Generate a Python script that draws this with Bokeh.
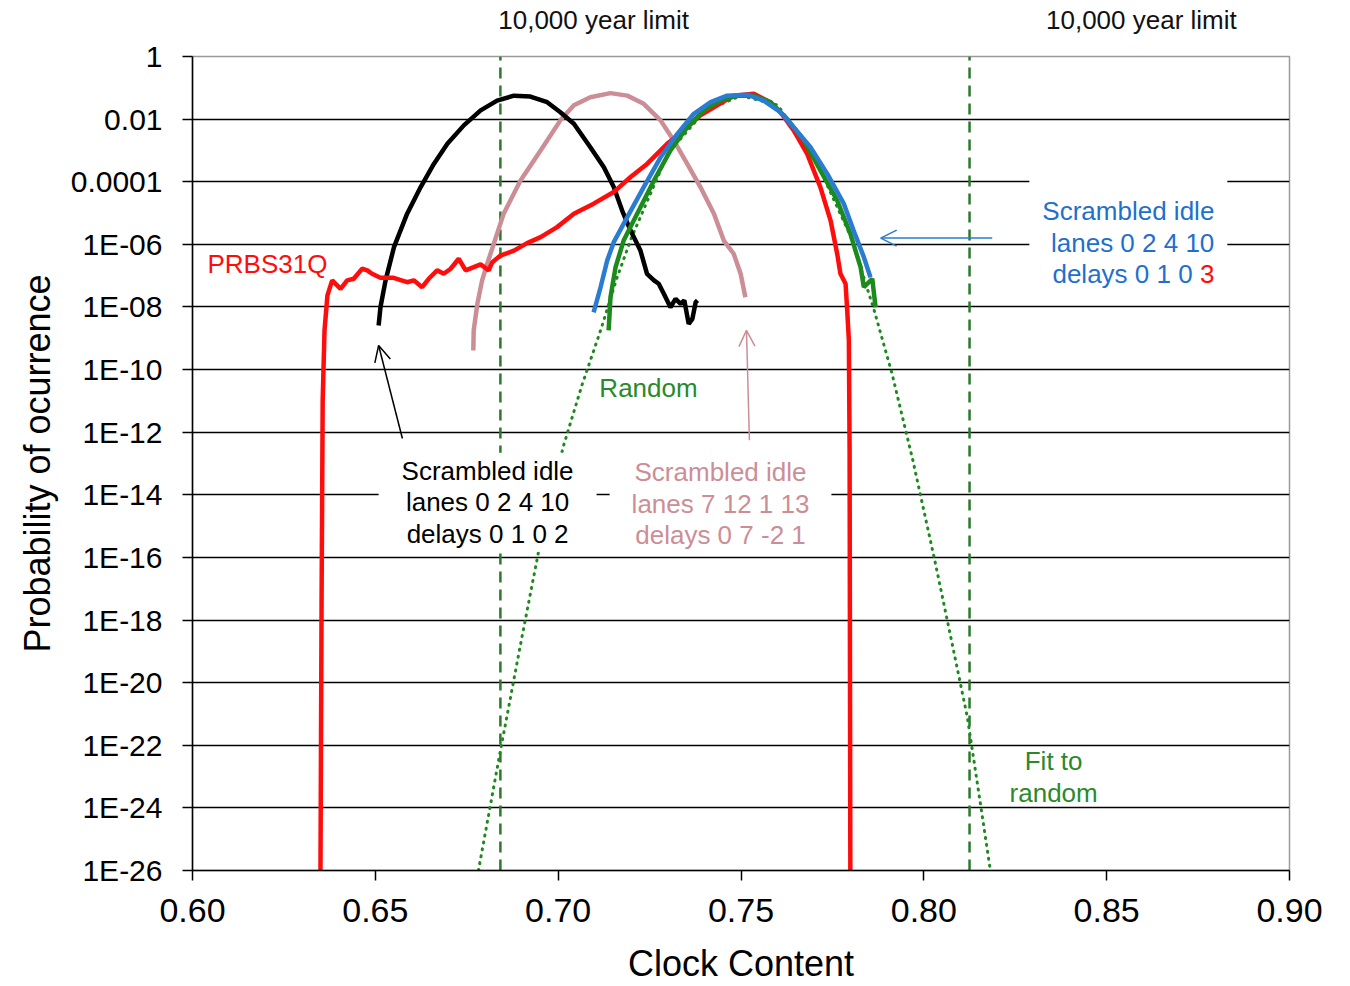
import math
from bokeh.plotting import figure
from bokeh.models import Range1d, FixedTicker, Label, Arrow, OpenHead, LinearAxis
from bokeh.embed import file_html
from bokeh.resources import INLINE

FONT = "Liberation Sans"

# ---------------- data (x = clock content, e = log10 of probability) ----------------
x_ticks = [0.60, 0.65, 0.70, 0.75, 0.80, 0.85, 0.90]
x_tick_labels = ["0.60", "0.65", "0.70", "0.75", "0.80", "0.85", "0.90"]
y_ticks = [1, 1e-2, 1e-4, 1e-6, 1e-8, 1e-10, 1e-12, 1e-14, 1e-16, 1e-18, 1e-20, 1e-22, 1e-24, 1e-26]
y_tick_labels = ["1", "0.01", "0.0001", "1E-06", "1E-08", "1E-10", "1E-12", "1E-14",
                 "1E-16", "1E-18", "1E-20", "1E-22", "1E-24", "1E-26"]

limit_x = [0.6842, 0.8125]            # 10,000 year limits
limit_label_x = [0.7097, 0.8595]      # where the "10,000 year limit" captions sit
limit_labels = ["10,000 year limit", "10,000 year limit"]

prbs_x = [0.6350, 0.6353, 0.6356, 0.6361, 0.6369, 0.6382, 0.6405, 0.6423, 0.6441, 0.6464,
          0.6478, 0.6491, 0.6514, 0.6550, 0.6587, 0.6605, 0.6628, 0.6646, 0.6669, 0.6687,
          0.6706, 0.6728, 0.6747, 0.6769, 0.6788, 0.6810, 0.6820, 0.6842, 0.6879, 0.6915,
          0.6952, 0.6997, 0.7043, 0.7097, 0.7152, 0.7198, 0.7243, 0.7298, 0.7344, 0.7389,
          0.7435, 0.7480, 0.7535, 0.7572, 0.7608, 0.7644, 0.7681, 0.7717, 0.7745, 0.7763,
          0.7772, 0.7786, 0.7790, 0.7795, 0.7797, 0.7799]
prbs_e = [-26.0, -17.37, -10.99, -8.75, -7.63, -7.15, -7.42, -7.15, -7.10, -6.78,
          -6.83, -6.94, -7.07, -7.07, -7.21, -7.15, -7.37, -7.10, -6.83, -6.94,
          -6.78, -6.46, -6.83, -6.73, -6.64, -6.83, -6.57, -6.36, -6.20, -5.96,
          -5.77, -5.45, -5.02, -4.70, -4.33, -3.85, -3.43, -2.79, -2.36, -1.88,
          -1.56, -1.25, -1.19, -1.41, -1.78, -2.36, -3.11, -4.17, -5.24, -6.30,
          -6.94, -7.26, -8.01, -9.07, -12.58, -26.0]

black_x = [0.6509, 0.6514, 0.6528, 0.6551, 0.6587, 0.6624, 0.6660, 0.6697, 0.6742, 0.6788,
           0.6833, 0.6879, 0.6924, 0.6970, 0.7006, 0.7043, 0.7088, 0.7125, 0.7152, 0.7175,
           0.7198, 0.7225, 0.7243, 0.7262, 0.7275, 0.7289, 0.7307, 0.7321, 0.7335, 0.7345,
           0.7357, 0.7367, 0.7376, 0.7381]
black_e = [-8.59, -8.01, -7.15, -6.09, -5.02, -4.17, -3.43, -2.79, -2.20, -1.72,
           -1.41, -1.25, -1.28, -1.46, -1.78, -2.15, -2.90, -3.54, -4.17, -4.92,
           -5.56, -6.20, -6.94, -7.15, -7.26, -7.58, -8.01, -7.74, -7.90, -7.79,
           -8.54, -8.38, -7.85, -7.79]

pink_x = [0.6768, 0.6769, 0.6779, 0.6792, 0.6806, 0.6824, 0.6851, 0.6897, 0.6952, 0.7006,
          0.7043, 0.7088, 0.7143, 0.7189, 0.7234, 0.7280, 0.7316, 0.7353, 0.7389, 0.7426,
          0.7453, 0.7480, 0.7499, 0.7512]
pink_e = [-9.39, -8.75, -7.90, -7.15, -6.62, -5.98, -5.02, -3.96, -3.00, -2.04,
          -1.56, -1.30, -1.17, -1.25, -1.51, -2.04, -2.68, -3.43, -4.17, -5.02,
          -5.88, -6.30, -6.94, -7.69]

blue_x = [0.7097, 0.7116, 0.7134, 0.7152, 0.7189, 0.7234, 0.7280, 0.7326, 0.7371, 0.7417,
          0.7462, 0.7517, 0.7562, 0.7608, 0.7644, 0.7690, 0.7736, 0.7781, 0.7808, 0.7836,
          0.7854]
blue_e = [-8.17, -7.37, -6.52, -5.93, -5.13, -4.17, -3.22, -2.47, -1.83, -1.46,
          -1.25, -1.22, -1.41, -1.78, -2.26, -2.90, -3.75, -4.70, -5.56, -6.41,
          -7.05]

random_x = [0.7138, 0.7143, 0.7157, 0.7179, 0.7216, 0.7262, 0.7307, 0.7353, 0.7398, 0.7444,
            0.7490, 0.7535, 0.7581, 0.7626, 0.7672, 0.7717, 0.7763, 0.7799, 0.7827, 0.7836,
            0.7859, 0.7868]
random_e = [-8.75, -7.69, -6.73, -5.88, -5.02, -3.96, -3.00, -2.26, -1.72, -1.41,
            -1.25, -1.25, -1.46, -1.99, -2.68, -3.64, -4.60, -5.66, -6.73, -7.37,
            -7.10, -8.01]

fit_x = [0.6782, 0.684, 0.690, 0.696, 0.7015, 0.7065, 0.7116, 0.716, 0.720, 0.730,
         0.740, 0.750, 0.760, 0.770, 0.780, 0.7863, 0.7913, 0.797, 0.803, 0.808,
         0.8119, 0.815, 0.8182]
fit_e = [-26.0, -22.3, -18.6, -15.0, -12.42, -10.5, -8.75, -7.1, -5.8, -3.1,
         -1.75, -1.25, -1.55, -3.2, -5.75, -8.06, -10.13, -12.9, -16.1, -18.9,
         -21.1, -23.5, -26.0]


def prob(exps):
    return [10.0 ** e for e in exps]


RED = "#ff0d0d"
PINK = "#cc8e96"
BLUE = "#2a7bd2"
BLUE_TXT = "#1f6fcf"
GREEN = "#1c8a1c"
GREEN_TXT = "#2a8a2a"
DGREEN = "#2b7a2b"

p = figure(width=1342, height=986,
           x_range=Range1d(0.60, 0.90), y_range=Range1d(1e-26, 1),
           y_axis_type="log", output_backend="svg", toolbar_location=None,
           min_border_left=192, min_border_right=53, min_border_top=56, min_border_bottom=116,
           background_fill_color="white", border_fill_color="white")

# axes
p.xaxis.ticker = FixedTicker(ticks=x_ticks)
p.xaxis.major_label_overrides = dict(zip(x_ticks, x_tick_labels))
p.yaxis.ticker = FixedTicker(ticks=y_ticks)
p.yaxis.major_label_overrides = dict(zip(y_ticks, y_tick_labels))
for ax in (p.xaxis, p.yaxis):
    ax.major_label_text_font = FONT
    ax.major_label_text_color = "black"
    ax.axis_line_color = "black"
    ax.axis_line_width = 1.5
    ax.major_tick_line_color = "black"
    ax.major_tick_line_width = 1.5
    ax.major_tick_out = 10
    ax.major_tick_in = 0
    ax.minor_tick_line_color = None
    ax.axis_label_text_font = FONT
    ax.axis_label_text_font_style = "normal"
    ax.axis_label_text_font_size = "36px"
    ax.axis_label_text_color = "black"
p.xaxis.major_label_text_font_size = "34px"
p.xaxis.major_label_standoff = 18
p.xaxis.axis_label = "Clock Content"
p.xaxis.axis_label_standoff = 18
p.yaxis.major_label_text_font_size = "30px"
p.yaxis.major_label_standoff = 20
p.yaxis.axis_label = "Probability of ocurrence"
p.yaxis.axis_label_standoff = 10

# captions above the plot, carried by a tick-less axis
top_axis = LinearAxis(ticker=FixedTicker(ticks=limit_label_x),
                      major_label_overrides=dict(zip(limit_label_x, limit_labels)),
                      axis_line_color=None, major_tick_line_color=None,
                      minor_tick_line_color=None, major_tick_out=0, major_tick_in=0,
                      major_label_standoff=22, major_label_text_font=FONT,
                      major_label_text_font_size="26px", major_label_text_color="#111111")
p.add_layout(top_axis, "above")

p.xgrid.visible = False
p.ygrid.ticker = FixedTicker(ticks=y_ticks[1:-1])
p.ygrid.grid_line_color = "black"
p.ygrid.grid_line_width = 1.5
p.outline_line_color = "#9a9a9a"
p.outline_line_width = 1.5

# 10,000 year limit lines
p.segment(x0=limit_x, y0=[y_ticks[-1]] * 2, x1=limit_x, y1=[y_ticks[0]] * 2,
          line_color=DGREEN, line_width=2.5, line_dash="11 7")

# fit to random (dotted)
p.line(fit_x, prob(fit_e), line_color=GREEN, line_width=3, line_dash="1 6", line_cap="round")

# curves
p.line(pink_x, prob(pink_e), line_color=PINK, line_width=4.5)
p.line(black_x, prob(black_e), line_color="black", line_width=4.5)
p.line(prbs_x, prob(prbs_e), line_color=RED, line_width=4.5)
p.line(random_x, prob(random_e), line_color=GREEN, line_width=4.5)
p.line(blue_x, prob(blue_e), line_color=BLUE, line_width=4.5)

# arrows
p.add_layout(Arrow(end=OpenHead(size=16, line_color="black", line_width=1.5),
                   x_start=0.6574, y_start=10 ** -12.20, x_end=0.6509, y_end=10 ** -9.23,
                   line_color="black", line_width=1.5))
p.add_layout(Arrow(end=OpenHead(size=16, line_color=PINK, line_width=1.5),
                   x_start=0.7523, y_start=10 ** -12.26, x_end=0.7515, y_end=10 ** -8.75,
                   line_color=PINK, line_width=1.5))
p.add_layout(Arrow(end=OpenHead(size=16, line_color=BLUE, line_width=1.5),
                   x_start=0.8187, y_start=10 ** -5.80, x_end=0.7882, y_end=10 ** -5.80,
                   line_color=BLUE, line_width=1.5))

LH = 1.05


def lab(x, e, text, color, size=26, align="center", baseline="middle", bg=None, padding=0):
    # padding tuple order: (left, right, top, bottom)
    kw = dict(x=x, y=10.0 ** e, text=text, text_color=color, text_font=FONT,
              text_font_size=f"{size}px", text_align=align, text_baseline=baseline,
              text_line_height=LH, padding=padding)
    if bg is not None:
        kw.update(background_fill_color=bg)
    lb = Label(**kw)
    p.add_layout(lb)
    return lb


lab(0.6041, -6.64, "PRBS31Q", RED, align="left")
lab(0.7247, -10.60, "Random", GREEN_TXT)
lab(0.8355, -23.01, "Fit to\nrandom", GREEN_TXT)
lab(0.6807, -14.24, "Scrambled idle\nlanes 0 2 4 10\ndelays 0 1 0 2", "black",
    bg="white", padding=(23, 23, 3, 3))
lab(0.7444, -14.28, "Scrambled idle\nlanes 7 12 1 13\ndelays 0 7 -2 1", PINK,
    bg="white", padding=(22, 22, 3, 3))
BLUE_E = -5.80
lab(0.8830, BLUE_E, "Scrambled idle\nlanes 0 2 4 10\ndelays 0 1 0 \u00a0\u00a0", BLUE_TXT,
    align="right", bg="white", padding=(13, 13, 17, 8))
lab(0.8830, BLUE_E - 0.997, "3", RED, align="right", padding=(13, 13, 17, 8))

open("out.html", "w").write(file_html(p, INLINE))
